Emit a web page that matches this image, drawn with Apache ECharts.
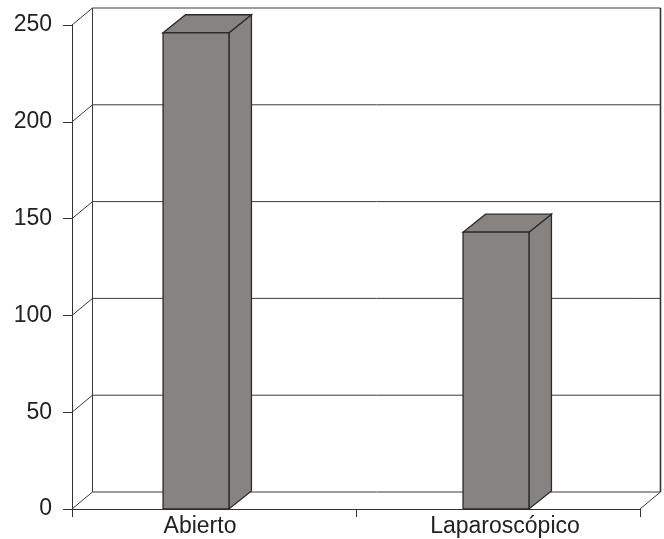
<!DOCTYPE html>
<html>
<head>
<meta charset="utf-8">
<script src="https://cdn.jsdelivr.net/npm/echarts@6/dist/echarts.min.js"></script>
<style>
html,body{margin:0;padding:0;background:#fff;}
#c{width:664px;height:539px;}
</style>
</head>
<body>
<div id="c"></div>
<script>
var categories = ['Abierto', 'Laparoscópico'];
var values = [246, 143];
var yTicks = [0, 50, 100, 150, 200, 250];

var DX = 20.5, DY = -17;
var EDGE = '#2b2b2b';
var BAR = '#878381';
var labelShift = [-14, 7];
var barShift = [-18, -2];

var chart = echarts.init(document.getElementById('c'));

function wallItem(params, api) {
  var cs = params.coordSys;
  var x0 = cs.x, x1 = cs.x + cs.width;
  var v = api.value(0);
  var y = api.coord([0, v])[1];
  var style = {stroke: '#3a3a3a', lineWidth: 1, fill: null};
  var children = [
    {type: 'line', shape: {x1: x0, y1: y, x2: x0 + DX, y2: y + DY}, style: style},
    {type: 'line', shape: {x1: x0 + DX, y1: y + DY, x2: x1 + DX, y2: y + DY}, style: style}
  ];
  if (params.dataIndex === 0) {
    var yTop = api.coord([0, yTicks[yTicks.length - 1]])[1];
    children.push({type: 'line', shape: {x1: x1, y1: y, x2: x1 + DX, y2: y + DY}, style: style});
    children.push({type: 'line', shape: {x1: x0 + DX, y1: yTop + DY, x2: x0 + DX, y2: y + DY}, style: style});
    children.push({type: 'line', shape: {x1: x1 + DX, y1: yTop + DY, x2: x1 + DX, y2: y + DY}, style: {stroke: '#333', lineWidth: 1.6}});
  }
  return {type: 'group', children: children};
}

function barItem(params, api) {
  var idx = api.value(0);
  var top = api.coord([idx, api.value(1)]);
  var base = api.coord([idx, 0]);
  var band = api.size([1, 0])[0];
  var w = band * 0.232;
  var cx = top[0] + (barShift[params.dataIndex] || 0);
  var l = cx - w / 2, r = cx + w / 2;
  var ty = top[1], by = base[1];
  var bdx = 22.5, bdy = -18;
  var st = {fill: BAR, stroke: EDGE, lineWidth: 1.3};
  return {
    type: 'group',
    children: [
      {type: 'polygon', shape: {points: [[r, ty], [r + bdx, ty + bdy], [r + bdx, by + bdy], [r, by]]}, style: st},
      {type: 'polygon', shape: {points: [[l, ty], [l + bdx, ty + bdy], [r + bdx, ty + bdy], [r, ty]]}, style: st},
      {type: 'rect', shape: {x: l, y: ty, width: w, height: by - ty}, style: st}
    ]
  };
}

chart.setOption({
  animation: false,
  backgroundColor: '#fff',
  grid: {left: 72, right: 24, top: 25, bottom: 30, containLabel: false},
  xAxis: {
    type: 'category',
    data: categories,
    boundaryGap: true,
    axisLine: {lineStyle: {color: '#333', width: 1}},
    axisTick: {show: true, length: 8, lineStyle: {color: '#333'}},
    axisLabel: {
      margin: 6,
      color: '#222',
      fontFamily: 'Liberation Sans, Arial, sans-serif',
      fontSize: 23,
      formatter: function (v, i) {
        var s = labelShift[i] || 0;
        return s < 0 ? '{l|' + v + '}' : '{r|' + v + '}';
      },
      rich: {
        l: {fontSize: 23, fontFamily: 'Liberation Sans, Arial, sans-serif', color: '#222', padding: [0, 28, 0, 0]},
        r: {fontSize: 23, fontFamily: 'Liberation Sans, Arial, sans-serif', color: '#222', padding: [0, 0, 0, 14]}
      }
    },
    splitLine: {show: false}
  },
  yAxis: {
    type: 'value',
    min: 0,
    max: 250,
    interval: 50,
    axisLine: {show: true, lineStyle: {color: '#333', width: 1}},
    axisTick: {show: true, length: 9, lineStyle: {color: '#333'}},
    axisLabel: {
      margin: 20,
      color: '#222',
      fontFamily: 'Liberation Sans, Arial, sans-serif',
      fontSize: 23
    },
    splitLine: {show: false}
  },
  series: [
    {
      type: 'custom',
      clip: false,
      z: 1,
      renderItem: wallItem,
      encode: {y: 0},
      data: yTicks.map(function (t) { return [t]; })
    },
    {
      type: 'custom',
      clip: false,
      z: 3,
      renderItem: barItem,
      encode: {x: 0, y: 1},
      data: values.map(function (v, i) { return [i, v]; })
    }
  ]
});
</script>
</body>
</html>
